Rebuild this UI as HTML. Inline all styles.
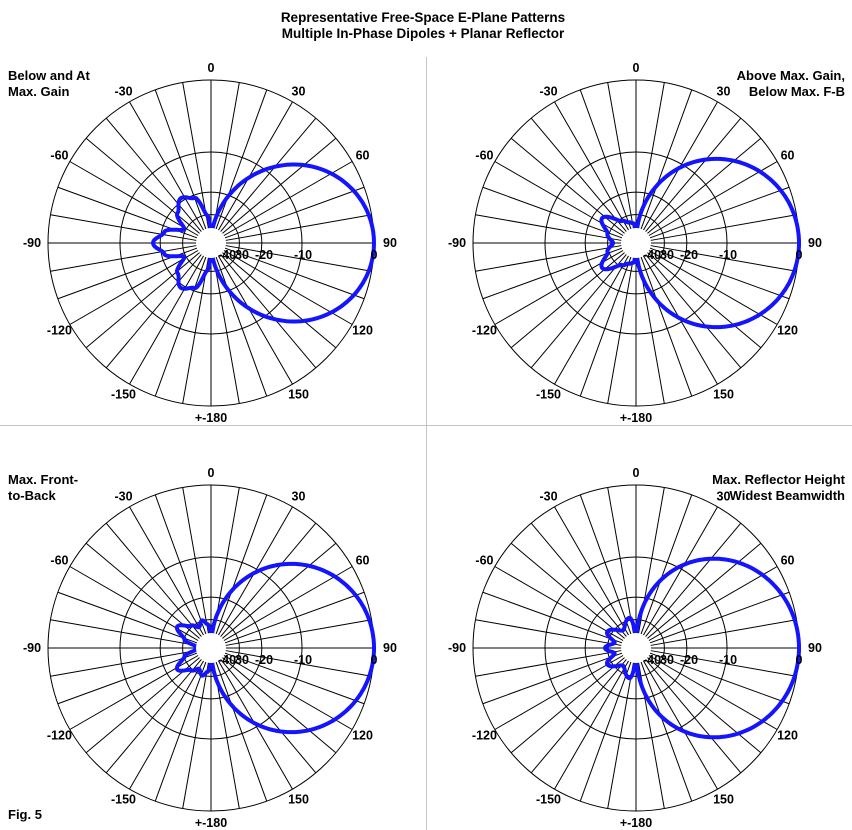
<!DOCTYPE html>
<html><head><meta charset="utf-8"><style>
body{margin:0;background:#fff;}
svg{display:block;font-family:"Liberation Sans",Arial,sans-serif;font-weight:bold;font-size:12.5px;}
</style></head><body>
<svg id="s" width="852" height="830" xmlns="http://www.w3.org/2000/svg">
<rect width="852" height="830" fill="#fff"/>
<line x1="426.5" y1="57" x2="426.5" y2="830" stroke="#c4c4c4"/>
<line x1="0" y1="425.5" x2="852" y2="425.5" stroke="#c4c4c4"/>
<text x="423" y="22" text-anchor="middle" font-size="13.5">Representative Free-Space E-Plane Patterns</text>
<text x="423" y="38" text-anchor="middle" font-size="13.5">Multiple In-Phase Dipoles + Planar Reflector</text>
<text x="8" y="80" font-size="13">Below and At</text>
<text x="8" y="96" font-size="13">Max. Gain</text>
<text x="845" y="80" font-size="13" text-anchor="end">Above Max. Gain,</text>
<text x="845" y="96" font-size="13" text-anchor="end">Below Max. F-B</text>
<text x="8" y="484" font-size="13">Max. Front-</text>
<text x="8" y="500" font-size="13">to-Back</text>
<text x="845" y="484" font-size="13" text-anchor="end">Max. Reflector Height</text>
<text x="845" y="500" font-size="13" text-anchor="end">Widest Beamwidth</text>
<text x="8" y="819" font-size="13">Fig. 5</text>
<g id="g"></g>
</svg>
<script>
var NS="http://www.w3.org/2000/svg",g=document.getElementById("g");
function el(t,a,txt){var e=document.createElementNS(NS,t);for(var k in a)e.setAttribute(k,a[k]);if(txt!==undefined)e.textContent=txt;g.appendChild(e);return e;}
var R=163;function rdb(d){return R*Math.pow(0.89,-d/2);}
function plot(cx,cy,p,back){
 [0,-10,-20,-30].forEach(function(d){el("circle",{cx:cx,cy:cy,r:rdb(d),fill:"none",stroke:"#000"});});
 for(var a=0;a<360;a+=10){var t=a*Math.PI/180;var r0=(a%90==0)?0:14;
  el("line",{x1:cx+r0*Math.sin(t),y1:cy-r0*Math.cos(t),x2:cx+R*Math.sin(t),y2:cy-R*Math.cos(t),stroke:"#000"});}
 function backR(phi){for(var i=0;i<back.length-1;i++){var a=back[i],b=back[i+1];if(phi>=a[0]&&phi<=b[0]){var f=(phi-a[0])/(b[0]-a[0]);f=(1-Math.cos(f*Math.PI))/2;return a[1]+(b[1]-a[1])*f;}}return 14;}
 var pts=[];
 for(var th=0;th<=360;th+=1){var r;
  if(th<=180){var s=Math.sin(th*Math.PI/180);var d=s<1e-4?-60:20*p*Math.log10(s);r=Math.max(14,rdb(d));}
  else{var phi=360-th;if(phi>90)phi=180-phi;r=backR(phi);}
  var t=th*Math.PI/180;pts.push((cx+r*Math.sin(t)).toFixed(1)+","+(cy-r*Math.cos(t)).toFixed(1));}
 el("polyline",{points:pts.join(" "),fill:"none",stroke:"#1414ff","stroke-width":4,"stroke-linejoin":"round"});
 el("circle",{cx:cx,cy:cy,r:15,fill:"#fff"});
 var labs=[[0,"0"],[30,"30"],[60,"60"],[90,"90"],[120,"120"],[150,"150"],[180,"+-180"],[-30,"-30"],[-60,"-60"],[-90,"-90"],[-120,"-120"],[-150,"-150"]];
 labs.forEach(function(l){var t=l[0]*Math.PI/180,rr=(l[0]==90||l[0]==-90)?179:175;el("text",{x:cx+rr*Math.sin(t),y:cy-rr*Math.cos(t)+4,"text-anchor":"middle"},l[1]);});
 [[-40,227],[-30,242],[-20,264],[-10,303],[0,374]].forEach(function(s){el("text",{x:cx+s[1]-211,y:cy+16,"text-anchor":"middle"},s[0]==-30?"30":String(s[0]));});
}
plot(211,243,2.2,[[0,14],[8,28],[20,48],[34,54],[48,45],[63,30],[77,48],[90,58]]);
plot(636,243,1.8,[[0,14],[8,20],[20,22],[32,26],[54,42],[72,30],[90,23]]);
plot(211,648,1.8,[[0,14],[8,24],[18,29],[30,24],[42,30],[58,40],[72,28],[84,15],[90,14]]);
plot(636,648,1.5,[[0,14],[12,31],[36,22],[61,33],[76,22],[90,31]]);
</script>
</body></html>
